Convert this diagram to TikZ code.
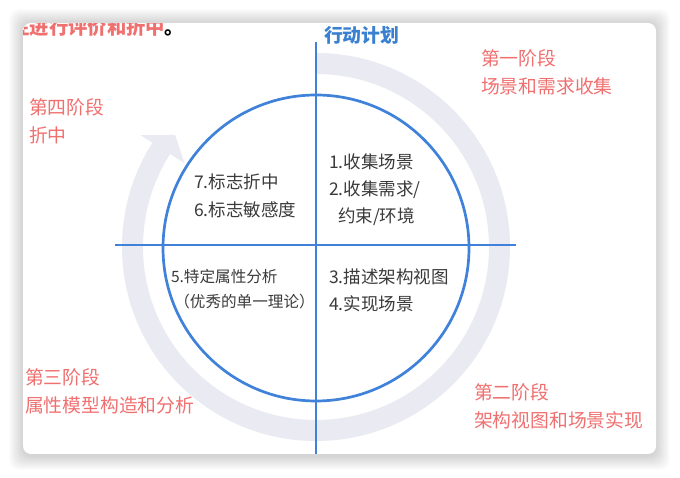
\documentclass[tikz,border=0pt]{standalone}
\usepackage{fontspec}
\setmainfont{Noto Sans CJK SC}
\begin{document}
\begin{tikzpicture}[x=1pt, y=1pt, inner sep=0pt, outer sep=0pt,
  stage/.style={anchor=west, text=S, font=\fontsize{18.8}{22}\selectfont},
  item/.style={anchor=west, text=T, font=\fontsize{17.5}{21}\selectfont},
  note/.style={text=T, font=\fontsize{15.6}{19}\selectfont},
  axis/.style={line width=2pt, draw=B}]
\definecolor{S}{RGB}{240,112,112}
\definecolor{T}{RGB}{58,58,58}
\definecolor{B}{RGB}{64,130,218}
\definecolor{H}{RGB}{58,128,208}
\definecolor{G}{RGB}{234,234,243}
\path[fill=white] (0,0) rectangle (680,478);
% card with its shadow
\foreach \i in {1,...,14}
  \fill[black, opacity=0.010, rounded corners=10pt] (23-\i,22-\i) rectangle (656+\i,455+\i);
\path[fill=white, rounded corners=8pt] (23,24) rectangle (656,455);
\begin{scope}
\clip[rounded corners=8pt] (23,24) rectangle (656,455);
\node[anchor=west, text=S, font=\fontsize{19.3}{23}\selectfont\bfseries] (cut) at (10.5,451) {性进行评价和折中\textcolor{black}{。}};
\end{scope}
% grey cycle arrow
\coordinate (C) at (316,231);
\draw[line width=21pt, draw=G] (C) ++(90:183.5) arc[start angle=90, end angle=-213, radius=183.5];
\fill[G] ([shift={(-212.5:156)}]C) -- ([shift={(-212.5:208)}]C) -- ([shift={(-218.5:180)}]C) -- cycle;
% circle and axes
\coordinate (O) at (316,230);
\draw[line width=2.7pt, draw=B] (O) circle[radius=153];
\coordinate (top) at (316,436);
\coordinate (bot) at (316,24);
\coordinate (left) at (115,233);
\coordinate (right) at (516,233);
\draw[axis] (top) -- (bot);
\draw[axis] (left) -- (right);
\node[anchor=west, text=H, font=\fontsize{18.8}{22}\selectfont\bfseries] (plan) at (324,443) {行动计划};
% stages
\node[stage] (s1a) at (481,420) {第一阶段};
\node[stage] (s1b) at (481,392) {场景和需求收集};
\node[stage] (s2a) at (474,86) {第二阶段};
\node[stage] (s2b) at (474,58) {架构视图和场景实现};
\node[stage] (s3a) at (25,101) {第三阶段};
\node[stage] (s3b) at (25,73) {属性模型构造和分析};
\node[stage] (s4a) at (29,371) {第四阶段};
\node[stage] (s4b) at (29,343) {折中};
% steps
\node[item] (i1) at (329,316) {1.收集场景};
\node[item] (i2) at (329,288) {2.收集需求/};
\node[item] (i2b) at (338,261) {约束/环境};
\node[item] (i3) at (329,201) {3.描述架构视图};
\node[item] (i4) at (329,174) {4.实现场景};
\node[note, anchor=west] (i5) at (171,201) {5.特定属性分析};
\node[note] (i5b) at (244.5,176) {（优秀的单一理论）};
\node[item] (i6) at (194,268) {6.标志敏感度};
\node[item] (i7) at (194,296) {7.标志折中};
\end{tikzpicture}
\end{document}
